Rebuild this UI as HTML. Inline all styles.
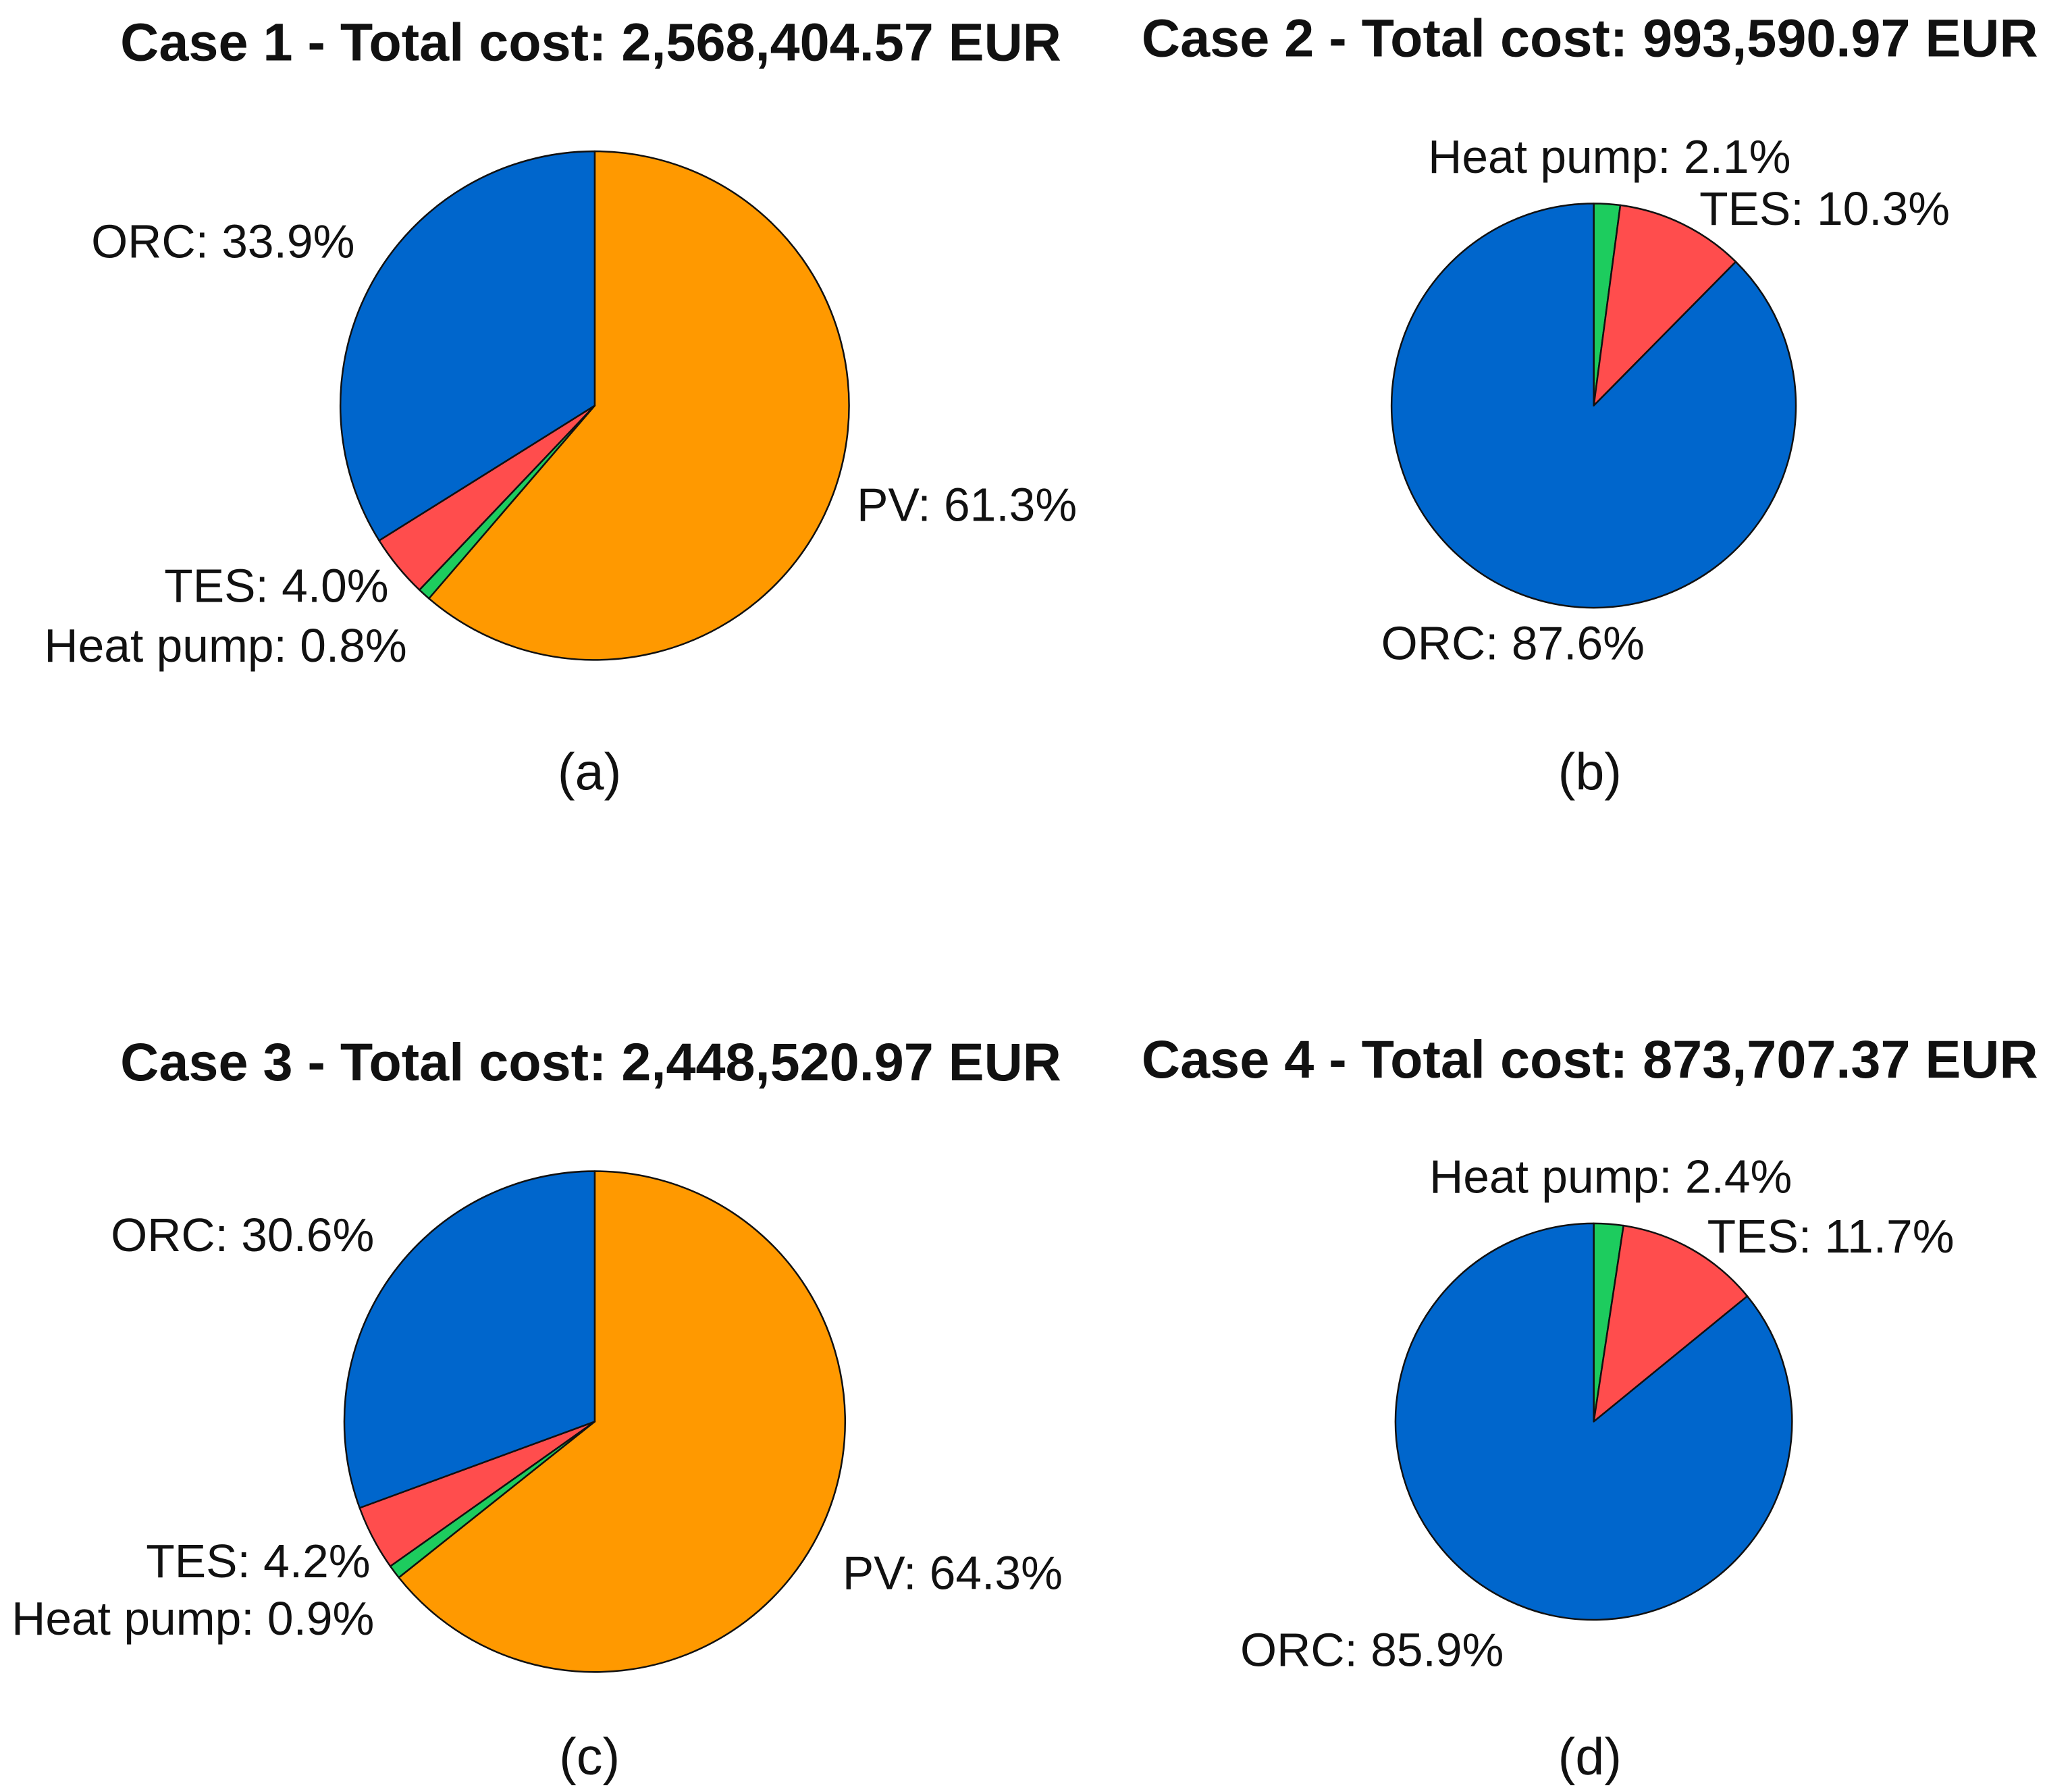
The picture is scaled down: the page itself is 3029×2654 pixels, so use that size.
<!DOCTYPE html>
<html><head><meta charset="utf-8"><style>
html,body{margin:0;padding:0;background:#fff}
svg{display:block}
text{font-family:"Liberation Sans",Arial,sans-serif;fill:#111}
</style></head><body>
<svg id="chart" width="3029" height="2654" viewBox="0 0 1568 1374" preserveAspectRatio="none" xmlns="http://www.w3.org/2000/svg">
<g id="root"></g>
</svg>
<script>
// Data
const caseTitles = ["Case 1 - Total cost: 2,568,404.57 EUR","Case 2 - Total cost: 993,590.97 EUR","Case 3 - Total cost: 2,448,520.97 EUR","Case 4 - Total cost: 873,707.37 EUR"];
const subLabels = ["(a)","(b)","(c)","(d)"];
const categories = ["PV","Heat pump","TES","ORC"];
const case1Values = [61.3,0.8,4.0,33.9];
const case2Values = [0,2.1,10.3,87.6];
const case3Values = [64.3,0.9,4.2,30.6];
const case4Values = [0,2.4,11.7,85.9];
const colors = {"PV":"#FF9900","Heat pump":"#1DCC5E","TES":"#FF4D4D","ORC":"#0066CC"};

// Layout
const panels = [
 {cx:456,cy:311,r:195,tx:453,ty:32,sx:452,sy:592,
  labels:{"PV":[657,387,"start"],"Heat pump":[312,495,"end"],"TES":[298,449,"end"],"ORC":[272,185,"end"]}},
 {cx:1222,cy:311,r:155,tx:1219,ty:29,sx:1219,sy:592,
  labels:{"Heat pump":[1234,120,"middle"],"TES":[1303,160,"start"],"ORC":[1160,493,"middle"]}},
 {cx:456,cy:1090,r:192,tx:453,ty:814,sx:452,sy:1347,
  labels:{"PV":[646,1206,"start"],"Heat pump":[287,1241,"end"],"TES":[284,1197,"end"],"ORC":[287,947,"end"]}},
 {cx:1222,cy:1090,r:152,tx:1219,ty:812,sx:1219,sy:1347,
  labels:{"Heat pump":[1235,902,"middle"],"TES":[1309,948,"start"],"ORC":[1052,1265,"middle"]}}
];
const allValues = [case1Values,case2Values,case3Values,case4Values];
const NS = "http://www.w3.org/2000/svg";
const root = document.getElementById("root");

function pt(cx,cy,r,frac){const a=frac*2*Math.PI;return [cx+r*Math.sin(a),cy-r*Math.cos(a)];}

panels.forEach((p,i)=>{
  const vals = allValues[i];
  const total = vals.reduce((s,v)=>s+v,0);
  const g = document.createElementNS(NS,"g");
  
  
  root.appendChild(g);
  let acc = 0;
  vals.forEach((v,j)=>{
    if(v<=0) return;
    const f0 = acc/total, f1 = (acc+v)/total; acc += v;
    const [x0,y0]=pt(p.cx,p.cy,p.r,f0), [x1,y1]=pt(p.cx,p.cy,p.r,f1);
    const large = (f1-f0)>0.5?1:0;
    const path = document.createElementNS(NS,"path");
    path.setAttribute("d",`M${p.cx},${p.cy} L${x0},${y0} A${p.r},${p.r} 0 ${large} 1 ${x1},${y1} Z`);
    path.setAttribute("fill",colors[categories[j]]);
    path.setAttribute("stroke","#111");
    path.setAttribute("stroke-width","1.3");
    path.setAttribute("stroke-linejoin","round");
    
    
    g.appendChild(path);
    const lp = p.labels[categories[j]];
    if(lp){
      const t = document.createElementNS(NS,"text");
      t.setAttribute("x",lp[0]);t.setAttribute("y",lp[1]);
      t.setAttribute("text-anchor",lp[2]);
      t.setAttribute("dominant-baseline","central");
      t.setAttribute("font-size","36");
      t.textContent = categories[j]+": "+v.toFixed(1)+"%";
      
      
      g.appendChild(t);
    }
  });
  const title = document.createElementNS(NS,"text");
  title.setAttribute("x",p.tx);title.setAttribute("y",p.ty);
  title.setAttribute("text-anchor","middle");
  title.setAttribute("dominant-baseline","central");
  title.setAttribute("font-size","41");title.setAttribute("font-weight","bold");
  title.textContent = caseTitles[i];
  
  
  g.appendChild(title);
  const sub = document.createElementNS(NS,"text");
  sub.setAttribute("x",p.sx);sub.setAttribute("y",p.sy);
  sub.setAttribute("text-anchor","middle");
  sub.setAttribute("dominant-baseline","central");
  sub.setAttribute("font-size","40");
  sub.textContent = subLabels[i];
  
  
  g.appendChild(sub);
});
</script>
</body></html>
